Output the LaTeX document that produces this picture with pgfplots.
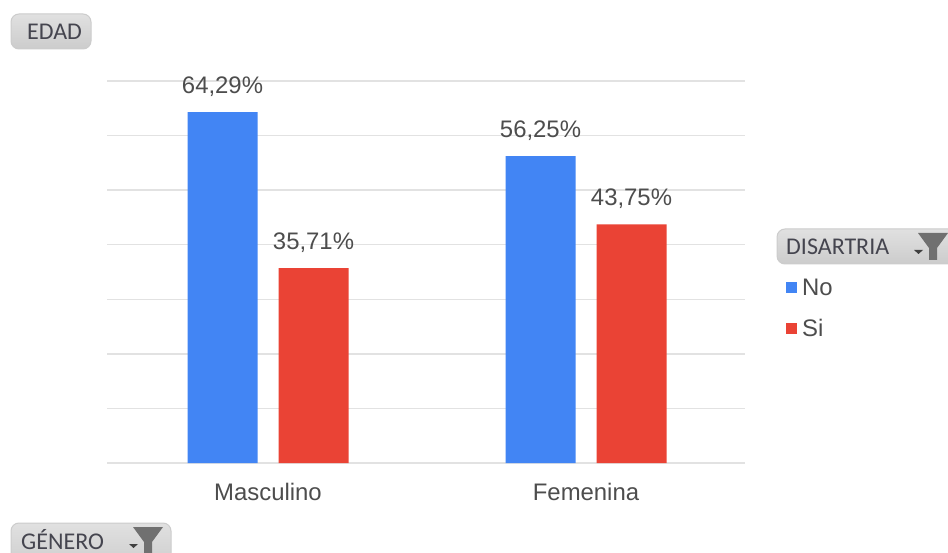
\documentclass[border=0pt]{standalone}
\usepackage{pgfplots}
\pgfplotsset{compat=1.18}
\usepackage{fontspec}
\setmainfont{Liberation Sans}
\newfontfamily\btnfont{Carlito}
\definecolor{barNo}{HTML}{4285F4}
\definecolor{barSi}{HTML}{EA4335}
\definecolor{gridc}{HTML}{E2E2E2}
\definecolor{txt}{HTML}{4D4D4D}
\definecolor{btntxt}{HTML}{45454F}
\definecolor{funnel}{HTML}{707070}
\newcommand{\chartfont}{\fontsize{23.9pt}{26pt}\selectfont}
% field button: left, top, right, bottom (top-left page coordinates), caption, caption x
\newcommand{\fieldbutton}[6]{%
  \draw[draw=black!20,line width=1pt,rounded corners=8pt,top color=black!12,bottom color=black!20]
    (#1pt,552pt-#2pt) rectangle (#3pt,552pt-#4pt);
  \node[anchor=base west,inner sep=0pt,text=btntxt,font=\btnfont\fontsize{24pt}{26pt}\selectfont]
    at (#6pt,552pt-#2pt-26pt) {#5};}
% filter icon with its small drop arrow; #1 = funnel left, #2 = funnel top
\newcommand{\filtericon}[2]{%
  \fill[funnel] (#1pt,552pt-#2pt) -- ++(30pt,0pt) -- ++(-11pt,-15pt) -- ++(0pt,-12pt)
    -- ++(-8pt,0pt) -- ++(0pt,12pt) -- cycle;
  \fill[black!75] (#1pt-4pt,552pt-#2pt-17pt) -- ++(9pt,0pt) -- ++(-4.5pt,-4pt) -- cycle;}
\begin{document}
\begin{tikzpicture}[x=1pt,y=1pt]
  \path[use as bounding box,fill=white] (0,0) rectangle (948pt,552pt);
  \clip (0,0) rectangle (948pt,552pt);
  \begin{axis}[
    at={(107pt,89pt)},anchor=south west,
    scale only axis,width=638pt,height=382pt,
    xmin=-0.5063,xmax=1.5,ymin=0,ymax=70,
    ybar,bar width=70pt,
    axis line style={draw=none},
    major tick length=0pt,
    ytick={0,10,20,30,40,50,60,70},yticklabels={},
    ymajorgrids,grid style={gridc,line width=1.5pt},
    xtick={0,1},xticklabels={Masculino,Femenina},
    xticklabel style={font=\chartfont,text=txt,yshift=-17pt},
    nodes near coords={\pgfmathprintnumber{\pgfplotspointmeta}\%},
    every node near coord/.append style={font=\chartfont,text=txt,yshift=12pt},
    /pgf/number format/.cd,fixed,fixed zerofill,precision=2,use comma,assume math mode=true,
    /pgfplots/.cd,
    legend style={at={(axis cs:1.6285,34.2)},anchor=north west,draw=none,fill=none,
      font=\chartfont,text=txt,row sep=19pt,inner sep=0pt,
      nodes={inner xsep=5pt},
      /tikz/every even column/.append style={column sep=0pt}},
    legend cell align=left,
    legend image code/.code={\fill[#1] (0pt,-5.5pt) rectangle (11pt,5.5pt);},
  ]
    \addplot[fill=barNo,draw=none,bar shift=-45.5pt] coordinates {(0,64.29) (1,56.25)};
    \addlegendentry{No}
    \addplot[fill=barSi,draw=none,bar shift=45.5pt] coordinates {(0,35.71) (1,43.75)};
    \addlegendentry{Si}
  \end{axis}
  \fieldbutton{11}{14}{91}{49}{EDAD}{27}
  \fieldbutton{777}{229}{960}{264}{DISARTRIA}{786}
  \filtericon{918}{233}
  \fieldbutton{11}{523}{171}{570}{GÉNERO}{21}
  \filtericon{133}{527}
\end{tikzpicture}
\end{document}
